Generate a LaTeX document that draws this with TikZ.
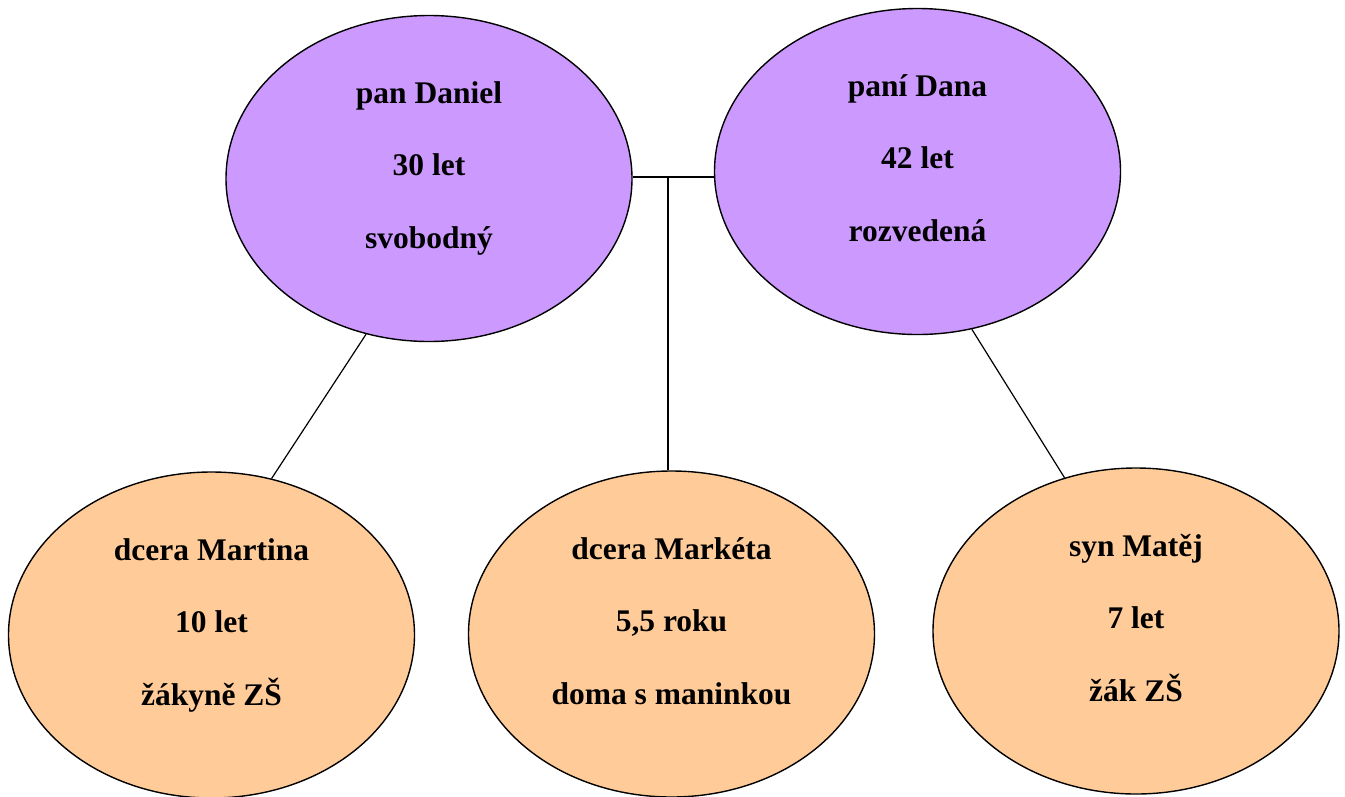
\documentclass[tikz,border=0pt]{standalone}
\usepackage{fontspec}
\setmainfont{Liberation Serif}
\usetikzlibrary{shapes.geometric}
\definecolor{parentfill}{HTML}{CC99FF}
\definecolor{childfill}{HTML}{FFCC99}
\tikzset{
  oval/.style={ellipse, draw=black, line width=1.4pt, inner sep=0pt,
    minimum width=406pt, minimum height=326pt},
  parent/.style={oval, fill=parentfill},
  child/.style={oval, fill=childfill},
  txt/.style={anchor=base, inner sep=0pt, font=\fontsize{31.5}{36}\selectfont\bfseries},
  link/.style={draw=black, line width=1.2pt}
}
\newcommand{\threelines}[4]{%
  \node[txt] (#1-a) at ([yshift=75pt]#1.center) {#2};
  \node[txt] (#1-b) at ([yshift=3pt]#1.center) {#3};
  \node[txt] (#1-c) at ([yshift=-70pt]#1.center) {#4};
}
\begin{document}
\begin{tikzpicture}[x=1pt,y=-1pt]
\useasboundingbox (0,0) rectangle (1345,796);
\node[parent] (daniel) at (429,178.5) {};
\node[parent] (dana) at (917.5,171.5) {};
\node[child] (martina) at (211.5,635) {};
\node[child] (marketa) at (671.5,634) {};
\node[child] (matej) at (1136,631) {};
\threelines{daniel}{pan Daniel}{30 let}{svobodný}
\threelines{dana}{paní Dana}{42 let}{rozvedená}
\threelines{martina}{dcera Martina}{10 let}{žákyně ZŠ}
\threelines{marketa}{dcera Markéta}{5,5 roku}{doma s maninkou}
\threelines{matej}{syn Matěj}{7 let}{žák ZŠ}
\coordinate (j) at (668,177);
\draw[link] (daniel.east |- j) -- (dana.west |- j);
\draw[link] (j) -- (j |- marketa.north);
\draw[link] (daniel.248.6) -- (martina.69.9);
\draw[link] (dana.289.3) -- (matej.115.1);
\end{tikzpicture}
\end{document}
